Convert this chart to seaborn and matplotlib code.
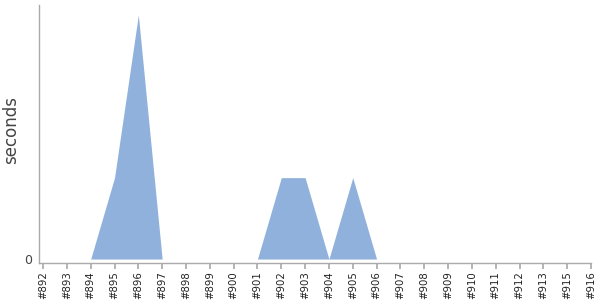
import matplotlib
matplotlib.use("Agg")
import matplotlib.pyplot as plt
import seaborn as sns
import numpy as np
import pandas as pd

builds = ["#892", "#893", "#894", "#895", "#896", "#897", "#898", "#899", "#900",
          "#901", "#902", "#903", "#904", "#905", "#906", "#907", "#908", "#909",
          "#910", "#911", "#912", "#913", "#915", "#916"]
seconds = [0, 0, 0, 1.0, 3.0, 0, 0, 0, 0,
           0, 1.0, 1.0, 0, 1.0, 0, 0, 0, 0,
           0, 0, 0, 0, 0, 0]

sns.set_theme(style="white")
plt.rcParams['font.family'] = ['DejaVu Sans']

df = pd.DataFrame({"build": builds, "seconds": seconds})
df["pos"] = np.arange(len(builds))

fig = plt.figure(figsize=(6, 3), dpi=100)
ax = fig.add_axes([0.065, 0.123, 0.92, 0.86])

fill_color = "#8fb1db"
sns.lineplot(data=df, x="pos", y="seconds", ax=ax, color=fill_color, linewidth=0)
ax.fill_between(df["pos"], 0, df["seconds"], color=fill_color, linewidth=0)

ax.set_xlim(-0.17, len(builds) - 1)
ax.set_ylim(-0.05, 3.12)
ax.set_xticks(df["pos"])
ax.set_xticklabels(builds, rotation=90, fontsize=7.3, color="#222222")
ax.set_yticks([0])
ax.set_yticklabels(["0"], fontsize=9, color="#444444")
ax.set_xlabel("")
ax.set_ylabel("seconds", fontsize=12, color="#444444")
ax.yaxis.set_label_coords(-0.034, 0.515)

for side in ["top", "right"]:
    ax.spines[side].set_visible(False)
for side in ["left", "bottom"]:
    ax.spines[side].set_color("#aaaaaa")
    ax.spines[side].set_linewidth(1)
ax.tick_params(axis="x", which="both", bottom=True, length=4, color="#aaaaaa", pad=2)
ax.tick_params(axis="y", which="both", left=False, pad=-1)

fig.savefig("out.png", dpi=100)
